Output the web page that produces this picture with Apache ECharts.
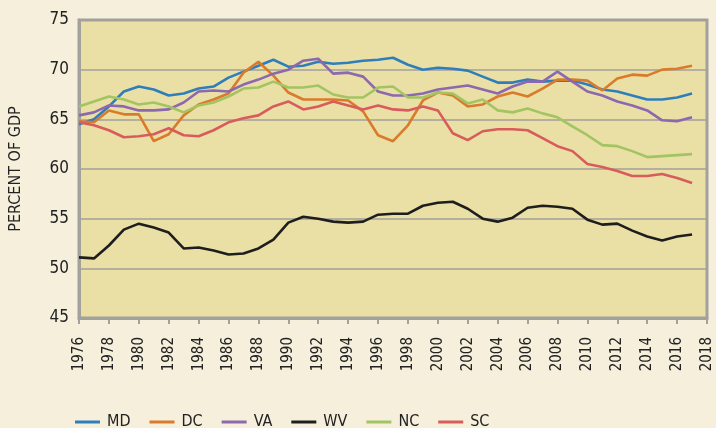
<!DOCTYPE html>
<html>
<head>
<meta charset="utf-8">
<script src="https://cdn.jsdelivr.net/npm/echarts@6/dist/echarts.min.js"></script>
<style>
html,body{margin:0;padding:0;background:#F5EFDB;}
#chart{width:716px;height:428px;}
</style>
</head>
<body>
<div id="chart"></div>
<script>
var years = [];
for (var y = 1976; y <= 2017; y++) years.push(y);

var seriesNames = ['MD', 'DC', 'VA', 'WV', 'NC', 'SC'];

var MD = [64.5, 65.0, 66.3, 67.8, 68.3, 68.0, 67.4, 67.6, 68.1, 68.3, 69.2, 69.8,
          70.4, 71.0, 70.3, 70.4, 70.8, 70.6, 70.7, 70.9, 71.0, 71.2,
          70.5, 70.0, 70.2, 70.1, 69.9, 69.3, 68.7, 68.7, 69.0, 68.8,
          68.9, 68.9, 68.5, 68.0, 67.8, 67.4, 67.0, 67.0, 67.2, 67.6];
var DC = [64.8, 64.7, 65.9, 65.5, 65.5, 62.8, 63.5, 65.4, 66.5, 67.0, 67.6, 69.7,
          70.8, 69.4, 67.7, 67.0, 67.0, 67.0, 66.9, 65.8, 63.4, 62.8,
          64.4, 66.9, 67.7, 67.4, 66.3, 66.5, 67.3, 67.7, 67.3, 68.1,
          69.0, 69.0, 68.9, 67.9, 69.1, 69.5, 69.4, 70.0, 70.1, 70.4];
var VA = [65.4, 65.7, 66.4, 66.3, 65.9, 65.9, 66.0, 66.7, 67.8, 67.9, 67.8, 68.5,
          69.0, 69.6, 70.0, 70.9, 71.1, 69.6, 69.7, 69.3, 67.8, 67.4,
          67.4, 67.6, 68.0, 68.2, 68.4, 68.0, 67.6, 68.3, 68.8, 68.8,
          69.8, 68.8, 67.8, 67.4, 66.8, 66.4, 65.9, 64.9, 64.8, 65.2];
var WV = [51.1, 51.0, 52.3, 53.9, 54.5, 54.1, 53.6, 52.0, 52.1, 51.8, 51.4, 51.5,
          52.0, 52.9, 54.6, 55.2, 55.0, 54.7, 54.6, 54.7, 55.4, 55.5,
          55.5, 56.3, 56.6, 56.7, 56.0, 55.0, 54.7, 55.1, 56.1, 56.3,
          56.2, 56.0, 54.9, 54.4, 54.5, 53.8, 53.2, 52.8, 53.2, 53.4];
var NC = [66.3, 66.8, 67.3, 67.0, 66.5, 66.7, 66.3, 65.7, 66.4, 66.7, 67.3, 68.1,
          68.2, 68.8, 68.2, 68.2, 68.4, 67.5, 67.2, 67.2, 68.2, 68.3,
          67.2, 67.2, 67.7, 67.6, 66.6, 67.0, 65.9, 65.7, 66.1, 65.6,
          65.2, 64.3, 63.4, 62.4, 62.3, 61.8, 61.2, 61.3, 61.4, 61.5];
var SC = [64.7, 64.4, 63.9, 63.2, 63.3, 63.5, 64.1, 63.4, 63.3, 63.9, 64.7, 65.1,
          65.4, 66.3, 66.8, 66.0, 66.3, 66.8, 66.4, 66.0, 66.4, 66.0,
          65.9, 66.3, 65.9, 63.6, 62.9, 63.8, 64.0, 64.0, 63.9, 63.1,
          62.3, 61.8, 60.5, 60.2, 59.8, 59.3, 59.3, 59.5, 59.1, 58.6];

var seriesValues = [MD, DC, VA, WV, NC, SC];
var colors = ['#2F7EBC', '#DA7B2C', '#8C68AE', '#1E1E1E', '#A2C463', '#D95C5C'];

var yTicks = [45, 50, 55, 60, 65, 70, 75];
var xTickStart = 1976, xTickEnd = 2018, xTickStep = 2;

var FONT = "'Liberation Sans Narrow', 'DejaVu Sans Condensed', 'Open Sans', sans-serif";

var chart = echarts.init(document.getElementById('chart'), null, {renderer: 'canvas'});

var series = seriesNames.map(function (name, i) {
  return {
    name: name,
    type: 'line',
    data: years.map(function (yr, j) { return [yr, seriesValues[i][j]]; }),
    showSymbol: false,
    symbol: 'none',
    lineStyle: {color: colors[i], width: 2.6},
    itemStyle: {color: colors[i]},
    emphasis: {disabled: true},
    animation: false
  };
});

chart.setOption({
  backgroundColor: '#F5EFDB',
  animation: false,
  grid: {
    left: 76, right: 9, top: 20, bottom: 110,
    show: true,
    backgroundColor: '#EAE0A6',
    borderColor: '#A3A19B',
    borderWidth: 3
  },
  legend: {
    left: 70,
    top: 409,
    itemWidth: 25,
    itemHeight: 3,
    itemGap: 19,
    icon: 'rect',
    textStyle: {fontFamily: FONT, fontSize: 16, color: '#222', padding: [0, 0, 0, 2]},
    data: seriesNames
  },
  xAxis: {
    type: 'value',
    min: xTickStart,
    max: xTickEnd,
    interval: xTickStep,
    axisLine: {show: true, lineStyle: {color: '#A3A19B', width: 3}},
    axisTick: {show: true, length: 6, lineStyle: {color: '#A3A19B', width: 2}},
    splitLine: {show: false},
    axisLabel: {
      rotate: 90,
      margin: 19,
      fontFamily: FONT,
      fontSize: 15,
      color: '#222',
      formatter: function (v) { return String(v); }
    }
  },
  yAxis: {
    type: 'value',
    min: yTicks[0],
    max: yTicks[yTicks.length - 1],
    interval: 5,
    name: 'PERCENT OF GDP',
    nameLocation: 'middle',
    nameGap: 55,
    nameTextStyle: {fontFamily: FONT, fontSize: 16, color: '#222'},
    axisLine: {show: true, lineStyle: {color: '#A3A19B', width: 3}},
    axisTick: {show: false},
    splitLine: {show: true, lineStyle: {color: '#A3A19B', width: 1.5}},
    axisLabel: {
      margin: 10,
      fontFamily: FONT,
      fontSize: 17,
      color: '#222'
    }
  },
  series: series
});
</script>
</body>
</html>
